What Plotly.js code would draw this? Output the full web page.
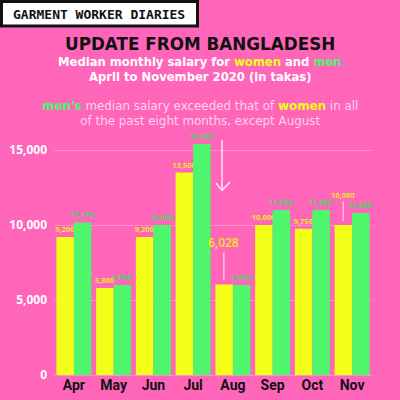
<!DOCTYPE html>
<html>
<head>
<meta charset="utf-8">
<script src="https://cdn.plot.ly/plotly-3.0.1.min.js"></script>
<style>html,body{margin:0;padding:0;background:#FF66BA;}#chart{width:400px;height:400px;}</style>
</head>
<body>
<div id="chart"></div>
<script>
const months = ["Apr","May","Jun","Jul","Aug","Sep","Oct","Nov"];
const women = [9200,5800,9200,13500,6028,10000,9750,10000];
const men = [10175,6000,10000,15400,6000,11000,11000,10800];
const yTicks = [0,5000,10000,15000];
const yTickLabels = ["0","5,000","10,000","15,000"];
// months whose women label is drawn as a callout instead of on the bar
const calloutMonths = ["Aug","Nov"];

const PINK = "#FF66BA", YELLOW = "#F4FF17", GREEN = "#4DF66A";
const fmt = v => v.toLocaleString("en-US");

const womenText = women.map((v,i) => calloutMonths.includes(months[i]) ? "" : fmt(v));
const menText = men.map(fmt);

const traces = [
  {type:"bar", x:months, y:women, name:"women", marker:{color:YELLOW},
   text:womenText, textposition:"outside", constraintext:"none", cliponaxis:false,
   textfont:{family:"Open Sans", size:7.5, color:"#F0E81E", weight:700}, hoverinfo:"none"},
  {type:"bar", x:months, y:men, name:"men", marker:{color:GREEN},
   text:menText, textposition:"outside", constraintext:"none", cliponaxis:false,
   textfont:{family:"Open Sans", size:7.5, color:"#4BD46A", weight:700}, hoverinfo:"none"}
];

const annotations = [
  {xref:"paper", yref:"paper", x:0.02, y:1, xanchor:"left", yanchor:"middle",
   yshift:0, text:"<b>GARMENT WORKER DIARIES</b>", showarrow:false,
   font:{family:"DejaVu Sans Mono", size:13, color:"#111"}},
  {text:"<b>UPDATE FROM BANGLADESH</b>", font:{family:"DejaVu Sans", size:16.8, color:"#111"}, y:44},
  {text:"<b>Median monthly salary for <span style='color:"+YELLOW+"'>women</span> and <span style='color:"+GREEN+"'>men</span></b>",
   font:{family:"DejaVu Sans", size:11.6, color:"#ffffff"}, y:62},
  {text:"<b>April to November 2020 (in takas)</b>", font:{family:"DejaVu Sans", size:11.6, color:"#ffffff"}, y:77},
  {text:"<b><span style='color:"+GREEN+"'>men's</span></b> median salary exceeded that of <b><span style='color:"+YELLOW+"'>women</span></b> in all<br>of the past eight months, except August",
   font:{family:"DejaVu Sans", size:11.9, color:"#FFD3EA"}, y:113}
];
// convert header text annotations given with pixel y into paper coords
const H = 400, T = 141, B = 25;
annotations.forEach((a,i) => {
  if (i === 0) { a.y = 1 + (T - 14) / (H - T - B); return; }
  a.xref = "paper"; a.yref = "paper"; a.x = (200 - 54) / (400 - 54 - 28);
  a.xanchor = "center"; a.yanchor = "middle"; a.showarrow = false;
  a.y = 1 + (T - a.y) / (H - T - B);
});
annotations[0].x = (11 - 54) / 318;

// callouts for women's Aug and Nov values
calloutMonths.forEach(m => {
  const i = months.indexOf(m);
  annotations.push({
    x: m, y: women[i], xref:"x", yref:"y", xshift:-9,
    text: fmt(women[i]), showarrow:true, arrowhead:0, arrowwidth:1.2, arrowcolor:"#FFD3EA",
    ax:0, ay: m === "Aug" ? -42 : -30, standoff:4,
    font: m === "Aug" ? {family:"Open Sans", size:12, color:"#F0E81E", weight:600}
                      : {family:"Open Sans", size:7.5, color:"#F0E81E", weight:700}
  });
});

const shapes = [
  {type:"rect", xref:"paper", yref:"paper",
   x0:(1.5-54)/318, x1:(197.5-54)/318, y0:1+(T-26)/234, y1:1+(T-1.5)/234,
   fillcolor:"#ffffff", line:{color:"#111", width:3}, layer:"below"},
  // white arrow between Jul and Aug
  {type:"line", xref:"paper", yref:"paper", x0:(222-54)/318, x1:(222-54)/318, y0:1+(T-140)/234, y1:1+(T-190)/234,
   line:{color:"#FFE3F1", width:1.5}},
  {type:"line", xref:"paper", yref:"paper", x0:(216-54)/318, x1:(222-54)/318, y0:1+(T-183)/234, y1:1+(T-190.5)/234,
   line:{color:"#FFE3F1", width:1.5}},
  {type:"line", xref:"paper", yref:"paper", x0:(230-54)/318, x1:(222-54)/318, y0:1+(T-182)/234, y1:1+(T-190.5)/234,
   line:{color:"#FFE3F1", width:1.5}}
];

const layout = {
  width:400, height:400,
  paper_bgcolor:PINK, plot_bgcolor:PINK,
  margin:{l:54, r:28, t:T, b:B},
  barmode:"group", bargap:0.12, bargroupgap:0,
  showlegend:false,
  xaxis:{type:"category", tickfont:{family:"Roboto", size:14, color:"#111", weight:700},
         showgrid:false, ticks:"", showline:false, fixedrange:true},
  yaxis:{range:[0,15600], tickvals:yTicks, ticktext:yTickLabels,
         tickfont:{family:"Open Sans", size:12, color:"#ffffff", weight:700},
         gridcolor:"#FF8CCB", gridwidth:1, zeroline:true, zerolinecolor:"#FF8CCB", zerolinewidth:1,
         ticks:"", ticklabelstandoff:6, showline:false, fixedrange:true},
  annotations:annotations, shapes:shapes
};

Plotly.newPlot("chart", traces, layout, {displayModeBar:false, staticPlot:true});
</script>
</body>
</html>
